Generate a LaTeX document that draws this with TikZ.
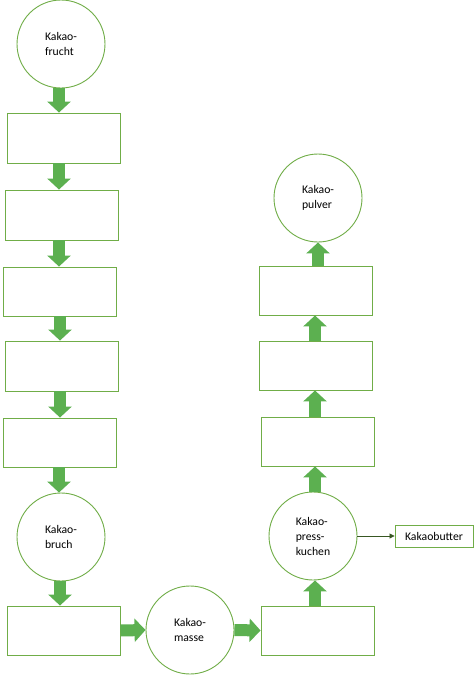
\documentclass[tikz,border=0pt]{standalone}
\usepackage{fontspec}
\setmainfont{Carlito}
\usetikzlibrary{arrows.meta,calc}
\definecolor{outl}{RGB}{112,173,71}
\definecolor{arrfill}{RGB}{92,176,80}
\definecolor{darkg}{RGB}{56,87,35}
\begin{document}
\begin{tikzpicture}[x=1pt,y=-1pt,
  box/.style={draw=outl,line width=0.9pt,fill=white,minimum width=113pt,minimum height=50pt,inner sep=0pt},
  circ/.style={draw=outl,line width=0.9pt,fill=white,circle,minimum size=88pt,inner sep=0pt,align=left,font=\fontsize{11.7pt}{15pt}\selectfont},
  fat/.style={draw=arrfill,line width=12pt,-{Triangle[width=23pt,length=11pt]}},
  thin/.style={draw=darkg,line width=0.8pt,-{Triangle[width=5pt,length=5pt]}},
  smallbox/.style={draw=outl,line width=0.9pt,fill=white,minimum width=78pt,minimum height=22pt,inner sep=0pt,font=\fontsize{11.7pt}{13pt}\selectfont}]
\useasboundingbox (0,0) rectangle (476,678);
% left column
\node[circ] (frucht) at (61,44) {Kakao-\\frucht};
\node[box] (b1) at (63.5,138) {};
\node[box] (b2) at (61.5,215) {};
\node[box,minimum height=49pt] (b3) at (59.5,291.5) {};
\node[box] (b4) at (61.5,366) {};
\node[box,minimum height=49pt] (b5) at (59.5,442.5) {};
\node[circ] (bruch) at (61,537) {Kakao-\\bruch};
\node[box,minimum height=49pt] (b6) at (63.5,630.5) {};
% bottom
\node[circ] (masse) at (190,630) {Kakao-\\masse};
% right column
\node[box,minimum height=49pt] (b7) at (317.5,630.5) {};
\node[circ] (press) at (313,536) {Kakao-\\press-\\kuchen};
\node[smallbox] (butter) at (434,536) {Kakaobutter};
\node[box,minimum height=49pt] (b8) at (317.5,441.5) {};
\node[box,minimum height=49pt] (b9) at (315.5,365.5) {};
\node[box,minimum height=49pt] (b10) at (315.5,290.5) {};
\node[circ] (pulver) at (318,198) {Kakao-\\pulver};
% arrows left column
\draw[fat] (frucht.south -| 59,0) -- (b1.north -| 59,0);
\draw[fat] (b1.south -| 59,0) -- (b2.north -| 59,0);
\draw[fat] (b2.south -| 59,0) -- (b3.north -| 59,0);
\draw[fat] (b3.south -| 60,0) -- (b4.north -| 60,0);
\draw[fat] (b4.south -| 60,0) -- (b5.north -| 60,0);
\draw[fat] (b5.south -| 59,0) -- (bruch.north -| 59,0);
\draw[fat] (bruch.south -| 60,0) -- (b6.north -| 60,0);
% bottom row
\draw[fat] (b6.east) -- (masse.west);
\draw[fat] (masse.east) -- (b7.west);
% right column
\draw[fat] (b7.north -| 315,0) -- (press.south -| 315,0);
\draw[fat] (press.north -| 315,0) -- (b8.south -| 315,0);
\draw[fat] (b8.north -| 315,0) -- (b9.south -| 315,0);
\draw[fat] (b9.north -| 315,0) -- (b10.south -| 315,0);
\draw[fat] (b10.north -| 318,0) -- (pulver.south -| 318,0);
\draw[thin] (press.east) -- (butter.west);
\end{tikzpicture}
\end{document}
